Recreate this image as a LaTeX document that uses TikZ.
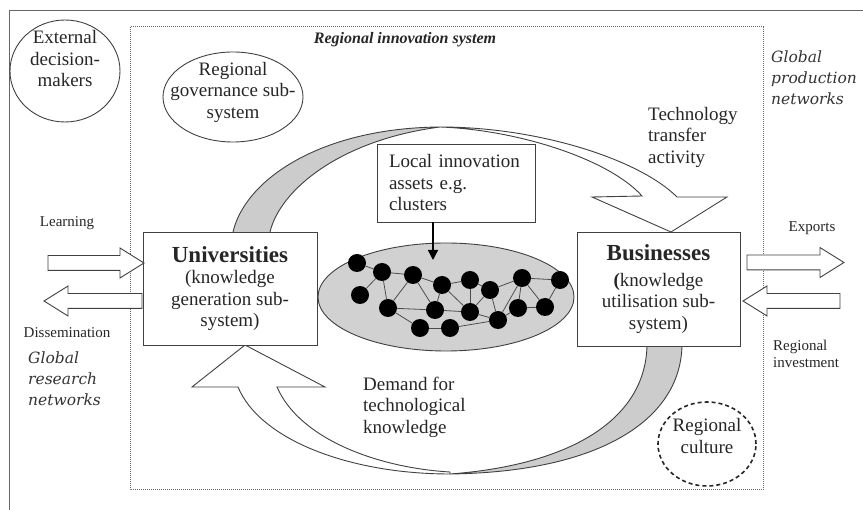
\documentclass[tikz,border=0pt]{standalone}
\usepackage{fontspec}
\setmainfont{Liberation Serif}
\newfontfamily\netfont{DejaVu Serif}
\usetikzlibrary{shapes.geometric,shapes.arrows,arrows.meta}

\tikzset{
	line/.style={draw=black!75, line width=0.9pt},
	txt/.style={font=\fontsize{19}{21.5}\selectfont, align=center, inner sep=0pt, text=black!85},
	smalltxt/.style={font=\fontsize{15}{17}\selectfont, align=left, inner sep=0pt, text=black!85},
	nettxt/.style={font=\netfont\itshape\fontsize{15.5}{21}\selectfont, align=left, inner sep=0pt, text=black!80},
	sysbox/.style={rectangle, line, fill=white, txt},
	flowarr/.style={single arrow, line, fill=white, minimum width=29, inner xsep=0pt, inner ysep=7pt,
		single arrow head extend=7.5pt, single arrow tip angle=64},
	firm/.style={circle, fill=black, inner sep=0pt, minimum size=18},
	link/.style={draw=black!70, line width=0.8pt},
	ribbon/.style={line, fill=white},
	backside/.style={line, fill=black!20}
}

\begin{document}
\begin{tikzpicture}[x=1pt,y=-1pt]
			\useasboundingbox (0,0) rectangle (863,510);
			\draw[line, draw=black!60] (9,510) -- (9,10) -- (863,10);
			\draw[draw=black!60, line width=1pt, densely dotted] (130,27) rectangle (763,490);
			\node (ris) [txt, font=\fontsize{16}{18}\selectfont\bfseries\itshape] at (405,40) {Regional innovation system};
			% technology transfer ribbon
			\path[backside] (233,232) .. controls (245,180) and (320,128) .. (440,127)
				.. controls (340,140) and (280,190) .. (270,232);
			\path[ribbon] (440,127) .. controls (540,127) and (640,160) .. (677,197) -- (727,197) -- (671,232)
				-- (592,197) -- (642,196) .. controls (610,160) and (520,130) .. (440,127) -- cycle;
			% demand ribbon
			\path[backside] (682,346) .. controls (680,420) and (600,472) .. (450,474)
				.. controls (570,465) and (645,420) .. (647,346);
			\path[ribbon] (450,474) .. controls (350,474) and (260,440) .. (238,387) -- (192,387) -- (245,345)
				-- (325,387) -- (277,387) .. controls (300,440) and (380,468) .. (450,472) -- cycle;
			\node (uni) [sysbox, minimum width=174, minimum height=113] at (230,288.5)
				{{\fontsize{23}{25}\selectfont\bfseries Universities}\\(knowledge\\generation sub-\\system)};
			\node (biz) [sysbox, minimum width=163, minimum height=114] at (658.5,289)
				{{\fontsize{23}{25}\selectfont\bfseries Businesses}\\[4pt]\textbf{(}knowledge\\utilisation sub-\\system)};
			\node (lia) [sysbox, align=left, text width=134, inner xsep=12pt, minimum height=78] at (456,183)
				{Local innovation\\assets e.g.\\clusters};
			\node (clu) [ellipse, line, fill=black!18, minimum width=256, minimum height=108] at (446,297) {};
			\coordinate (cluin) at (433,260);
			\draw[line width=1.4pt, -{Triangle[length=10pt,width=10pt]}] (lia.south -| cluin) -- (cluin);
			\foreach \n/\x/\y in {1/357/263, 2/382/272, 3/360/295, 4/388/308, 5/413/275, 6/442/285,
				7/435/310, 8/420/328, 9/450/328, 10/470/280, 11/470/312, 12/490/290, 13/498/320,
				14/522/278, 15/518/308, 16/545/307, 17/560/280}
				\node (f\n) [firm] at (\x,\y) {};
			\foreach \a/\b in {1/2, 2/3, 2/5, 2/4, 5/6, 4/5, 5/7, 4/7, 4/8, 6/7, 6/10, 8/9, 7/11, 6/11,
				10/11, 10/12, 12/11, 12/13, 13/14, 12/14, 14/15, 14/17, 14/16, 15/16, 16/17, 13/15, 11/13, 9/13}
				\draw[link] (f\a) -- (f\b);
			\node (ext) [ellipse, line, minimum width=110, minimum height=102] at (65,71) {};
			\node (extlbl) [txt] at (65,59) {External\\decision-\\makers};
			\node (gov) [ellipse, line, minimum width=140, minimum height=90] at (233,97) {};
			\node (govlbl) [txt] at (233,92) {Regional\\governance sub-\\system};
			\node (cult) [ellipse, draw=black!85, line width=1.6pt, dash pattern=on 4pt off 3pt,
				minimum width=98, minimum height=84] at (707,444) {};
			\node (cultlbl) [txt] at (707,436) {Regional\\culture};
			\node (tta) [txt, align=left, anchor=west] at (648,137) {Technology\\transfer\\activity};
			\node (dtk) [txt, align=left, anchor=west] at (363,407) {Demand for\\technological\\knowledge};
			\node (gpn) [nettxt, anchor=west] at (771,78) {Global\\production\\networks};
			\node (grn) [nettxt, anchor=west] at (28,379) {Global\\research\\networks};
			\node (learn) [smalltxt] at (67,223) {Learning};
			\node (dissem) [smalltxt] at (67,333) {Dissemination};
			\node (expo) [smalltxt] at (812,228) {Exports};
			\node (rinv) [smalltxt, anchor=west] at (773,354) {Regional\\investment};
			\node (learnarr) [flowarr, minimum height=96] at (90,263) {};
			\node (dissarr) [flowarr, minimum height=98, shape border rotate=180] at (99,301) {};
			\node (expoarr) [flowarr, minimum height=97] at (789.5,262.5) {};
			\node (rinvarr) [flowarr, minimum height=97, shape border rotate=180] at (797.5,301) {};
\end{tikzpicture}
\end{document}
